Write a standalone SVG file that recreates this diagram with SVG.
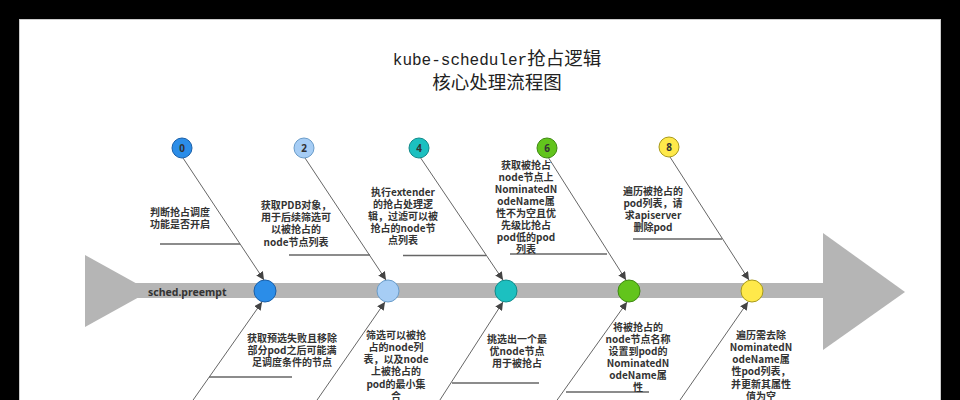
<svg xmlns="http://www.w3.org/2000/svg" width="960" height="400" viewBox="0 0 960 400">
<defs>
<style>
.lbl{font-family:"Noto Sans CJK SC","Noto Sans",sans-serif;font-size:10px;font-weight:700;fill:#333;text-anchor:middle}
.num{font-family:"Noto Sans","Noto Sans CJK SC",sans-serif;font-size:10px;font-weight:700;fill:#333;text-anchor:middle}
.diag{stroke:#555;stroke-width:0.9;fill:none}
.ul{stroke:#666;stroke-width:1.4;fill:none}
.fish{fill:#b5b5b5}
.c0{fill:#2b8de8;stroke:#1a5fa8;stroke-width:1}
.c2{fill:#a6cdf5;stroke:#6a9cc9;stroke-width:1}
.c4{fill:#1cc0c0;stroke:#128a8a;stroke-width:1}
.c6{fill:#62c41c;stroke:#3f8a12;stroke-width:1}
.c8{fill:#ffe94a;stroke:#a89a1a;stroke-width:1}
</style>
<marker id="arr" viewBox="0 0 10 10" refX="10" refY="5" markerWidth="8" markerHeight="8" markerUnits="userSpaceOnUse" orient="auto">
<path d="M0,0 L10,5 L0,10 Z" fill="#444"/>
</marker>
</defs>
<rect x="0" y="0" width="960" height="400" fill="#000"/>
<rect x="19.5" y="19.5" width="921" height="400" fill="#fff" stroke="#ccc" stroke-width="1"/>
<g id="title" font-family="'Noto Sans CJK SC',sans-serif" font-size="18.5" fill="#222" text-anchor="middle">
<text x="497" y="65"><tspan font-family="'Liberation Mono',monospace" font-size="16">kube-scheduler</tspan>抢占逻辑</text>
<text x="497" y="89">核心处理流程图</text>
</g>
<g id="fishbone">
<polygon class="fish" points="85,255 85,327 150,291"/>
<rect class="fish" x="120" y="283" width="705" height="15"/>
<polygon class="fish" points="823,233 905,292 823,350"/>
<text x="148" y="296" font-family="'Noto Sans','Noto Sans CJK SC',sans-serif" font-size="10.5" font-weight="700" fill="#333">sched.preempt</text>
</g>
<g id="connectors">
<line class="diag" x1="183" y1="158" x2="264" y2="280" marker-end="url(#arr)"/>
<line class="diag" x1="305" y1="158" x2="386" y2="280" marker-end="url(#arr)"/>
<line class="diag" x1="420" y1="157" x2="503" y2="280" marker-end="url(#arr)"/>
<line class="diag" x1="548" y1="157" x2="626" y2="280" marker-end="url(#arr)"/>
<line class="diag" x1="670" y1="157" x2="749" y2="280" marker-end="url(#arr)"/>
<line class="diag" x1="191" y1="403" x2="262" y2="302" marker-end="url(#arr)"/>
<line class="diag" x1="315" y1="403" x2="385" y2="302" marker-end="url(#arr)"/>
<line class="diag" x1="438" y1="403" x2="503" y2="302" marker-end="url(#arr)"/>
<line class="diag" x1="555" y1="403" x2="627" y2="302" marker-end="url(#arr)"/>
<line class="diag" x1="678" y1="403" x2="748" y2="302" marker-end="url(#arr)"/>
<line class="ul" x1="160" y1="244" x2="240" y2="244"/>
<line class="ul" x1="289" y1="255" x2="370" y2="255"/>
<line class="ul" x1="403" y1="255.5" x2="486" y2="255.5"/>
<line class="ul" x1="510" y1="254" x2="607" y2="254"/>
<line class="ul" x1="633" y1="239" x2="722" y2="239"/>
<line class="ul" x1="209" y1="377" x2="292" y2="377"/>
<line class="ul" x1="452" y1="383" x2="539" y2="383"/>
<line class="ul" x1="566" y1="392" x2="649" y2="392"/>
</g>
<g id="node-0">
<circle class="c0" cx="182" cy="148" r="10"/><text class="num" x="182" y="151.5">0</text>
<circle class="c0" cx="265" cy="291" r="11"/>
<text class="lbl" x="180"><tspan x="180" y="215.5">判断抢占调度</tspan><tspan x="180" y="227.5">功能是否开启</tspan></text>
</g>
<g id="node-1">
<text class="lbl"><tspan x="292" y="341.5">获取预选失败且移除</tspan><tspan x="292" y="353.5">部分pod之后可能满</tspan><tspan x="292" y="365.5">足调度条件的节点</tspan></text>
</g>
<g id="node-2">
<circle class="c2" cx="304" cy="148" r="10"/><text class="num" x="304" y="151.5">2</text>
<circle class="c2" cx="388" cy="291" r="11"/>
<text class="lbl"><tspan x="296" y="208.5">获取PDB对象，</tspan><tspan x="296" y="220.5">用于后续筛选可</tspan><tspan x="296" y="233">以被抢占的</tspan><tspan x="296" y="245.5">node节点列表</tspan></text>
</g>
<g id="node-3">
<text class="lbl"><tspan x="396" y="338.5">筛选可以被抢</tspan><tspan x="396" y="350.5">占的node列</tspan><tspan x="396" y="362.5">表，以及node</tspan><tspan x="396" y="375">上被抢占的</tspan><tspan x="396" y="387.5">pod的最小集</tspan><tspan x="396" y="399.5">合</tspan></text>
</g>
<g id="node-4">
<circle class="c4" cx="419" cy="148" r="10"/><text class="num" x="419" y="151.5">4</text>
<circle class="c4" cx="506" cy="291" r="11"/>
<text class="lbl"><tspan x="403" y="195.5">执行extender</tspan><tspan x="403" y="207.5">的抢占处理逻</tspan><tspan x="403" y="219.5">辑，过滤可以被</tspan><tspan x="403" y="231.5">抢占的node节</tspan><tspan x="403" y="243.5">点列表</tspan></text>
</g>
<g id="node-5">
<text class="lbl"><tspan x="517" y="342.5">挑选出一个最</tspan><tspan x="517" y="354.5">优node节点</tspan><tspan x="517" y="366.5">用于被抢占</tspan></text>
</g>
<g id="node-6">
<circle class="c6" cx="547" cy="148" r="10"/><text class="num" x="547" y="151.5">6</text>
<circle class="c6" cx="629" cy="291" r="11"/>
<text class="lbl"><tspan x="526" y="168.5">获取被抢占</tspan><tspan x="526" y="180.5">node节点上</tspan><tspan x="526" y="192.5">NominatedN</tspan><tspan x="526" y="204.5">odeName属</tspan><tspan x="526" y="216.5">性不为空且优</tspan><tspan x="526" y="228.5">先级比抢占</tspan><tspan x="526" y="240.5">pod低的pod</tspan><tspan x="526" y="252.5">列表</tspan></text>
</g>
<g id="node-7">
<text class="lbl"><tspan x="638" y="330.5">将被抢占的</tspan><tspan x="638" y="342.5">node节点名称</tspan><tspan x="638" y="354.5">设置到pod的</tspan><tspan x="638" y="366.5">NominatedN</tspan><tspan x="638" y="378.5">odeName属</tspan><tspan x="638" y="390.5">性</tspan></text>
</g>
<g id="node-8">
<circle class="c8" cx="669" cy="147" r="10"/><text class="num" x="669" y="150.5">8</text>
<circle class="c8" cx="752" cy="291" r="11"/>
<text class="lbl"><tspan x="653" y="194.5">遍历被抢占的</tspan><tspan x="653" y="206.5">pod列表，请</tspan><tspan x="653" y="218.5">求apiserver</tspan><tspan x="653" y="230.5">删除pod</tspan></text>
</g>
<g id="node-9">
<text class="lbl"><tspan x="761" y="338.5">遍历需去除</tspan><tspan x="761" y="350.5">NominatedN</tspan><tspan x="761" y="362.5">odeName属</tspan><tspan x="761" y="375">性pod列表，</tspan><tspan x="761" y="387.5">并更新其属性</tspan><tspan x="761" y="399.5">值为空</tspan></text>
</g>
</svg>
